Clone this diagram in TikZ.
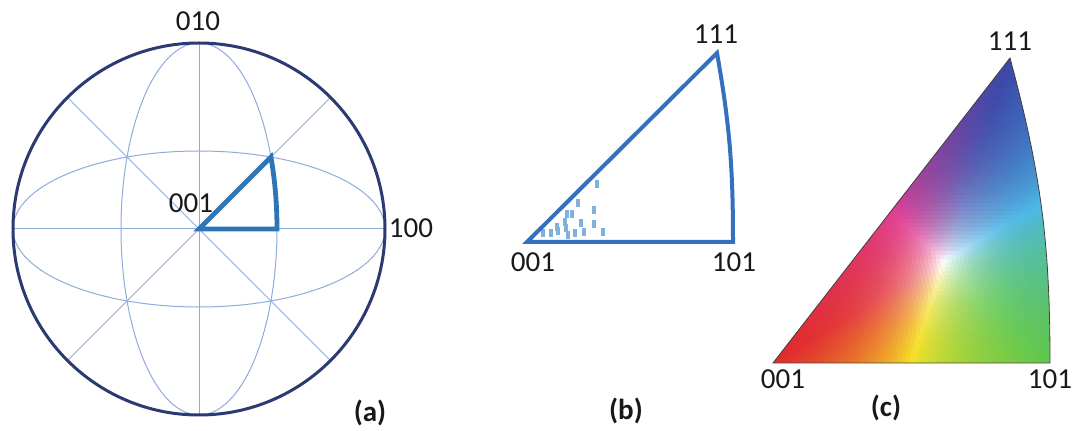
\documentclass[tikz,border=0pt]{standalone}
\usepackage{fontspec}
\setmainfont{Carlito}
\definecolor{navy}{HTML}{2C3A72}
\definecolor{gridblue}{HTML}{8FAADC}
\definecolor{thickblue}{HTML}{2E75B6}
\definecolor{triblue}{HTML}{3370BE}
\definecolor{dotblue}{HTML}{7FB0DE}
\tikzset{
  lbl/.style={inner sep=0pt, font=\fontsize{29}{34}\selectfont, text=black!90},
  plbl/.style={inner sep=0pt, font=\fontsize{29}{34}\selectfont\bfseries, text=black!90},
  gridline/.style={draw=gridblue, line width=1pt},
  outercircle/.style={draw=navy, line width=3pt},
  thicktri/.style={draw=thickblue, line width=4.8pt, line join=miter},
  sidetri/.style={draw=triblue, line width=4pt, line join=miter},
  mark rect/.style={fill=dotblue, draw=none},
}
\begin{document}
\begin{tikzpicture}[x=1pt,y=1pt]
\useasboundingbox (0,0) rectangle (1072,431);
% ---------------- panel (a)
\begin{scope}[shift={(199,202)}]
  \coordinate (ac) at (0,0);
  \foreach \ang in {0,45,90,135}{
    \draw[gridline] (\ang:186) -- (\ang+180:186);
  }
  \draw[gridline] (ac) ellipse [x radius=186pt, y radius=78pt];
  \draw[gridline] (ac) ellipse [x radius=78pt, y radius=186pt];
  \draw[outercircle] (ac) circle [radius=186pt];
  \coordinate (a001) at (0,0);
  \coordinate (ax) at (78,0);
  \draw[thicktri] (a001) -- (ax) arc [start angle=0, end angle=22.74, x radius=78pt, y radius=186pt] coordinate (atop) -- cycle;
\end{scope}
\node[lbl] (l010) at (198,410) {010};
\node[lbl] (la001) at (191,228) {001};
\node[lbl] (l100) at (411,203) {100};
\node[plbl] (la) at (370,18) {(a)};
% ---------------- panel (b)
\coordinate (b001) at (527,189);
\coordinate (b101) at (733,189);
\coordinate (b111) at (717,378);
\foreach \px/\py in {597/247,578/228,567/217,572/217,594/221,557/204,565/209,566/203,581/208,594/207,543/198,551/198,558/200,568/196,575/198,584/199,603/199}{
  \fill[mark rect] (\px-2,\py-4) rectangle (\px+2,\py+4);
}
\draw[sidetri] (b001) -- (b101) to[out=90,in=-80] (b111) -- cycle;
\node[lbl] (lb111) at (716,397) {111};
\node[lbl] (lb001) at (533,169) {001};
\node[lbl] (lb101) at (734,169) {101};
\node[plbl] (lb) at (626,20) {(b)};
% ---------------- panel (c)
\coordinate (c001) at (773,68);
\coordinate (c101) at (1050,68);
\coordinate (c111) at (1010,373);
\begin{scope}
  \clip (c001) -- (c101) to[out=90,in=-75] (c111) -- cycle;
  \foreach \j in {0,...,76}{
    \pgfmathsetmacro\yy{68+\j*4}
    \pgfmathsetmacro\xs{773+(\yy-68)/305*237-6}
    \pgfmathtruncatemacro\nn{(1054-\xs)/4}
    \foreach \i in {0,...,\nn}{
      \pgfmathsetmacro\xx{\xs+\i*4}
      \pgfmathsetmacro\bC{min(1,max(0,(\yy+2-68)/305))}
      \pgfmathsetmacro\bB{max(0,(\xx+2-773-237*\bC)/277)}
      \pgfmathsetmacro\bA{max(0,1-\bB-\bC)}
      \pgfmathsetmacro\mm{max(\bA,\bB,\bC)}
      \pgfmathsetmacro\rr{\bA/\mm}
      \pgfmathsetmacro\gg{\bB/\mm}
      \pgfmathsetmacro\bb{\bC/\mm}
      \pgfmathsetmacro\ss{min(\rr,\gg,\bb)}
      \pgfmathsetmacro\den{max(1-\ss,0.001)}
      \pgfmathsetmacro\pr{(\rr-\ss)/\den}
      \pgfmathsetmacro\pg{(\gg-\ss)/\den}
      \pgfmathsetmacro\pb{(\bb-\ss)/\den}
      \pgfmathsetmacro\kR{max(0,\pr-max(\pg,\pb))}
      \pgfmathsetmacro\kG{max(0,\pg-max(\pr,\pb))}
      \pgfmathsetmacro\kB{max(0,\pb-max(\pr,\pg))}
      \pgfmathsetmacro\kY{min(\pr,\pg)}
      \pgfmathsetmacro\kM{min(\pr,\pb)}
      \pgfmathsetmacro\kC{min(\pg,\pb)}
      \pgfmathsetmacro\ww{\ss*sqrt(\ss)}
      \pgfmathsetmacro\R{min(1,\ww+(1-\ww)*(0.88*\kR+0.38*\kG+0.23*\kB+0.96*\kY+0.88*\kM+0.30*\kC))}
      \pgfmathsetmacro\G{min(1,\ww+(1-\ww)*(0.17*\kR+0.78*\kG+0.28*\kB+0.88*\kY+0.25*\kM+0.72*\kC))}
      \pgfmathsetmacro\B{min(1,\ww+(1-\ww)*(0.17*\kR+0.30*\kG+0.66*\kB+0.15*\kY+0.58*\kM+0.90*\kC))}
      \definecolor{cellc}{rgb}{\R,\G,\B}
      \fill[cellc] (\xx-0.3,\yy-0.3) rectangle (\xx+4.3,\yy+4.3);
    }
  }
\end{scope}
\draw[black!75, line width=0.8pt] (c001) -- (c101) to[out=90,in=-75] (c111) -- cycle;
\node[lbl] (lc111) at (1010,390) {111};
\node[lbl] (lc001) at (783,52) {001};
\node[lbl] (lc101) at (1050,52) {101};
\node[plbl] (lc) at (886,23) {(c)};
\end{tikzpicture}
\end{document}
